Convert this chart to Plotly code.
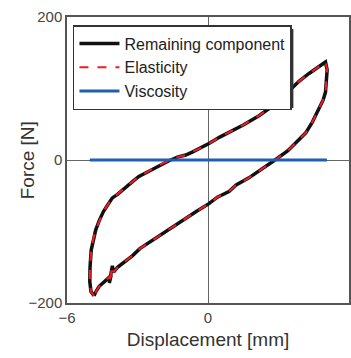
import plotly.graph_objects as go

# Remaining component / elasticity loop (displacement mm, force N)
loop_x = [-4.85, -4.98, -5.03, -5.02, -4.97, -4.88, -4.78, -4.62, -4.45, -4.25, -4.07, -3.85,
          -3.65, -3.45, -3.2, -2.94, -2.6, -2.23, -1.95, -1.66, -1.3, -0.95, -0.67, -0.3, 0.04,
          0.5, 1.03, 1.5, 2.17, 2.6, 3.16, 3.6, 3.87, 4.3, 4.72, 5.0,
          5.07, 5.05, 5.0, 4.9, 4.72, 4.44, 4.16, 3.87, 3.4, 2.85, 2.3, 1.74, 1.2, 0.89, 0.4,
          0.04, -0.5, -1.09, -1.6, -2.09, -2.5, -2.9, -3.22, -3.6, -3.85, -4.02, -4.07, -4.2,
          -4.12, -4.3, -4.5, -4.64, -4.8, -4.85]
loop_y = [-190, -184, -170, -150, -126, -110, -98, -84, -72, -62, -53, -48,
          -42, -36, -30, -23, -17, -10, -5, -1, 4, 7, 11, 17, 23,
          32, 41, 49, 62, 72, 87, 101, 110, 121, 131, 137,
          126, 112, 95, 84, 71, 53, 38, 28, 13, 0, -12, -25, -35, -44, -52,
          -61, -72, -85, -96, -107, -116, -124, -134, -144, -150, -157, -148, -172,
          -161, -167, -173, -177, -186, -190]

visc_x = [-5.03, -3.0, 0.0, 3.0, 5.06]
visc_y = [0, 0, 0, 0, 0]

x_ticks = [-6, 0, 6]
y_ticks = [-200, 0, 200]

FONT = "Liberation Sans, Arial, sans-serif"

fig = go.Figure()
fig.add_trace(go.Scatter(x=loop_x, y=loop_y, mode="lines", name="Remaining component",
                         line=dict(color="#111111", width=3.5)))
fig.add_trace(go.Scatter(x=loop_x, y=loop_y, mode="lines", name="Elasticity",
                         line=dict(color="#ee1c24", width=2, dash="dash")))
fig.add_trace(go.Scatter(x=visc_x, y=visc_y, mode="lines", name="Viscosity",
                         line=dict(color="#1f5fb0", width=3)))

L, R, T, B = 67, 0, 17, 55
W, H = 351, 358
pw, ph = W - L - R, H - T - B

def px(xp):
    return (xp - L) / pw

def py(yp):
    return (H - B - yp) / ph

LEG_TOP = 25
# legend shadow
fig.add_shape(type="rect", xref="paper", yref="paper",
              x0=px(77), x1=px(295), y0=py(108), y1=py(LEG_TOP + 4),
              fillcolor="#333333", line=dict(width=0), layer="above")

# y-axis title
fig.add_annotation(text="Force [N]", xref="paper", yref="paper",
                   x=px(27), y=py(160), xanchor="center", yanchor="middle",
                   textangle=-90, showarrow=False,
                   font=dict(family=FONT, size=19, color="#333333"))

fig.update_layout(
    width=W, height=H,
    margin=dict(l=L, r=R, t=T, b=B),
    paper_bgcolor="white", plot_bgcolor="white",
    font=dict(family=FONT, size=15, color="#333333"),
    showlegend=True,
    legend=dict(x=px(73), y=py(LEG_TOP), xanchor="left", yanchor="top",
                bgcolor="white", bordercolor="#333333", borderwidth=1.5,
                font=dict(family=FONT, size=16, color="#222222"),
                tracegroupgap=0, itemwidth=40),
    xaxis=dict(range=[-6, 6], tickvals=x_ticks, ticks="", showgrid=False,
               zeroline=True, zerolinecolor="#666666", zerolinewidth=1,
               showline=True, linecolor="#555555", linewidth=1.5, mirror=True,
               title=dict(text="Displacement [mm]", font=dict(family=FONT, size=19, color="#333333"), standoff=8),
               tickfont=dict(size=15, color="#444444")),
    yaxis=dict(range=[-200, 200], tickvals=y_ticks, ticks="", showgrid=False,
               zeroline=True, zerolinecolor="#666666", zerolinewidth=1,
               showline=True, linecolor="#555555", linewidth=1.5, mirror=True,
               tickfont=dict(size=15, color="#444444")),
)

fig.write_html("out.html")
